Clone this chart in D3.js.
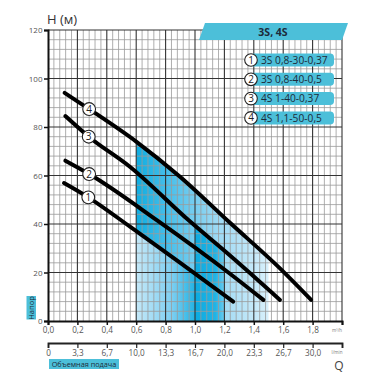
<!DOCTYPE html>
<html><head><meta charset="utf-8">
<script src="https://cdn.jsdelivr.net/npm/d3@7"></script>
<style>body{margin:0;background:#fff}svg{display:block}text{font-family:"Open Sans",sans-serif}</style>
</head><body>
<script>
// ---- data ----
const flowTicks = [0,0.2,0.4,0.6,0.8,1.0,1.2,1.4,1.6,1.8];
const flowLabels = ["0,0","0,2","0,4","0,6","0,8","1,0","1,2","1,4","1,6","1,8"];
const lminLabels = ["0","3,3","6,7","10,0","13,3","16,7","20,0","23,3","26,7","30,0"];
const headTicks = [0,20,40,60,80,100,120];
const models = ["3S 0,8-30-0,37","3S 0,8-40-0,5","4S 1-40-0,37","4S 1,1-50-0,5"];
const curve1 = [[0.109,56.9],[0.274,51],[0.558,38.9],[0.9,24],[1.26,8]];
const curve2 = [[0.118,66.1],[0.28,60.6],[0.74,41.6],[1.238,19.5],[1.465,8.7]];
const curve3 = [[0.118,84.5],[0.277,76],[0.557,63.6],[0.955,41.6],[1.238,27],[1.578,8.7]];
const curve4 = [[0.113,94.1],[0.28,87.4],[0.6,74],[0.898,59.5],[1.238,40.5],[1.578,21.7],[1.79,8.7]];
const curveLabelPos = [[0.274,51],[0.28,60.6],[0.277,76],[0.28,87.4]];
const curves = [curve1,curve2,curve3,curve4];

const W=370,H=390;
const svg=d3.select("body").append("svg").attr("width",W).attr("height",H);
const x=d3.scaleLinear().domain([0,2]).range([48,342]);
const y=d3.scaleLinear().domain([0,120]).range([321,30]);
const defs=svg.append("defs");

function grad(id,x0,x1,stops){
  const g=defs.append("linearGradient").attr("id",id).attr("gradientUnits","userSpaceOnUse")
    .attr("x1",x(x0)).attr("x2",x(x1)).attr("y1",0).attr("y2",0);
  stops.forEach(s=>g.append("stop").attr("offset",s[0]).attr("stop-color",s[1]));
}
function clip(id,x0,x1){
  defs.append("clipPath").attr("id",id).append("rect")
    .attr("x",x(x0)).attr("width",x(x1)-x(x0)).attr("y",0).attr("height",H);
}
grad("gA",0.6,1.5,[[0,"#0fade1"],[0.3,"#55c3ec"],[0.6,"#9ad8f3"],[0.85,"#bfe6f8"],[1,"#d8f0fb"]]);
grad("gB",0.6,1.0,[[0,"#c4e8f8"],[0.6,"#7fcff1"],[1,"#22b3e4"]]);
grad("gC",1.0,1.2,[[0,"#0aaae0"],[0.7,"#22b4e5"],[1,"#6ccbef"]]);
clip("cA",0.6,1.5); clip("cB",0.6,1.0); clip("cC",1.0,1.2);

const area=d3.area().curve(d3.curveMonotoneX).x(d=>x(d[0])).y0(y(0)).y1(d=>y(d[1]));
svg.append("path").attr("d",area(curve4)).attr("fill","url(#gA)").attr("clip-path","url(#cA)");
svg.append("path").attr("d",area(curve1)).attr("fill","url(#gB)").attr("clip-path","url(#cB)");
svg.append("path").attr("d",area(curve3)).attr("fill","url(#gC)").attr("clip-path","url(#cC)");

// grid
const g=svg.append("g");
g.selectAll(".vm").data(d3.range(1,50).filter(i=>i%5)).join("line")
  .attr("x1",i=>x(i*0.04)).attr("x2",i=>x(i*0.04)).attr("y1",y(0)).attr("y2",y(120))
  .attr("stroke","#9a9a9a").attr("stroke-width",0.8);
g.selectAll(".hm").data(d3.range(1,30).filter(i=>i%5)).join("line")
  .attr("y1",i=>y(i*4)).attr("y2",i=>y(i*4)).attr("x1",x(0)).attr("x2",x(2))
  .attr("stroke","#9a9a9a").attr("stroke-width",0.8);
g.selectAll(".vM").data(d3.range(1,11)).join("line")
  .attr("x1",i=>x(i*0.2)).attr("x2",i=>x(i*0.2)).attr("y1",y(0)).attr("y2",y(120))
  .attr("stroke","#333").attr("stroke-width",1.1);
g.selectAll(".hM").data(d3.range(1,7)).join("line")
  .attr("y1",i=>y(i*20)).attr("y2",i=>y(i*20)).attr("x1",x(0)).attr("x2",x(2))
  .attr("stroke","#333").attr("stroke-width",1.1);

// axes
const ax=svg.append("g").attr("transform",`translate(0,${y(0)})`)
  .call(d3.axisBottom(x).tickValues([...flowTicks,2]).tickSize(4).tickPadding(2.5)
  .tickFormat((d,i)=>flowLabels[i]||""));
ax.select(".domain").attr("stroke","#111").attr("stroke-width",2);
ax.selectAll(".tick line").attr("stroke","#111").attr("stroke-width",1.5);
ax.selectAll("text").attr("fill","#555").attr("font-size",8.2);

const ay=svg.append("g").attr("transform",`translate(${x(0)},0)`)
  .call(d3.axisLeft(y).tickValues(headTicks).tickSize(4).tickPadding(1.5));
ay.select(".domain").attr("stroke","#111").attr("stroke-width",2);
ay.selectAll(".tick line").attr("stroke","#111").attr("stroke-width",1.5);
ay.selectAll("text").attr("fill","#555").attr("font-size",8);

const ax2=svg.append("g").attr("transform","translate(0,343)")
  .call(d3.axisBottom(x).tickValues([...flowTicks,2]).tickSize(5).tickPadding(2.5)
  .tickFormat((d,i)=>lminLabels[i]||""));
ax2.select(".domain").attr("stroke","#222").attr("stroke-width",1.8);
ax2.selectAll(".tick line").attr("stroke","#222").attr("stroke-width",1.2);
ax2.selectAll("text").attr("fill","#555").attr("font-size",8.2);

// curves
const line=d3.line().curve(d3.curveMonotoneX).x(d=>x(d[0])).y(d=>y(d[1]));
svg.selectAll(".crv").data(curves).join("path").attr("d",line)
  .attr("fill","none").attr("stroke","#000").attr("stroke-width",4).attr("stroke-linecap","round");

const cl=svg.selectAll(".cl").data(curveLabelPos).join("g")
  .attr("transform",d=>`translate(${x(d[0])},${y(d[1])})`);
cl.append("circle").attr("r",6.4).attr("fill","#fff").attr("stroke","#222").attr("stroke-width",1.1);
cl.append("text").text((d,i)=>i+1).attr("text-anchor","middle").attr("dy","0.35em")
  .attr("font-size",10).attr("fill","#222");

// titles
svg.append("text").attr("x",47).attr("y",24).text("H (м)").attr("font-size",13).attr("fill","#333");
svg.append("path").attr("d","M205,23L348,23L342,40L199,40Z").attr("fill","#4cbfd9");
svg.append("text").attr("x",273).attr("y",35.5).attr("text-anchor","middle").text("3S, 4S")
  .attr("font-size",10.5).attr("font-weight","bold").attr("fill","#1d2b3a");

// legend
const lg=svg.selectAll(".lg").data(models).join("g")
  .attr("transform",(d,i)=>`translate(251,${60+i*19.3})`);
lg.append("path").attr("d","M2,-6.5H79a4,4 0 0 1 4,4V2.5a4,4 0 0 1 -4,4H2Z").attr("fill","#4cbfd9");
lg.append("circle").attr("r",6.3).attr("fill","#fff").attr("stroke","#222").attr("stroke-width",1.1);
lg.append("text").text((d,i)=>i+1).attr("text-anchor","middle").attr("dy","0.35em")
  .attr("font-size",10).attr("fill","#222");
lg.append("text").text(d=>d).attr("x",10).attr("dy","0.36em").attr("font-size",10.2).attr("fill","#1d2b3a");

// side labels
svg.append("rect").attr("x",26.5).attr("y",296).attr("width",9.5).attr("height",23.5).attr("fill","#4cbfd9");
svg.append("text").attr("transform","translate(34,308) rotate(-90)").attr("text-anchor","middle")
  .text("Напор").attr("font-size",7.5).attr("fill","#1d2b3a");
svg.append("rect").attr("x",49).attr("y",359).attr("width",70).attr("height",10).attr("fill","#4cbfd9");
svg.append("text").attr("x",84).attr("y",367).attr("text-anchor","middle")
  .text("Объемная подача").attr("font-size",7.3).attr("fill","#1d2b3a");
svg.append("text").attr("x",337).attr("y",332).attr("text-anchor","middle").text("m³/h").attr("font-size",4.5).attr("fill","#777");
svg.append("text").attr("x",337).attr("y",354).attr("text-anchor","middle").text("l/min").attr("font-size",4.5).attr("fill","#777");
svg.append("text").attr("x",339).attr("y",370).attr("text-anchor","middle").text("Q").attr("font-size",12).attr("fill","#444");
</script>
</body></html>
